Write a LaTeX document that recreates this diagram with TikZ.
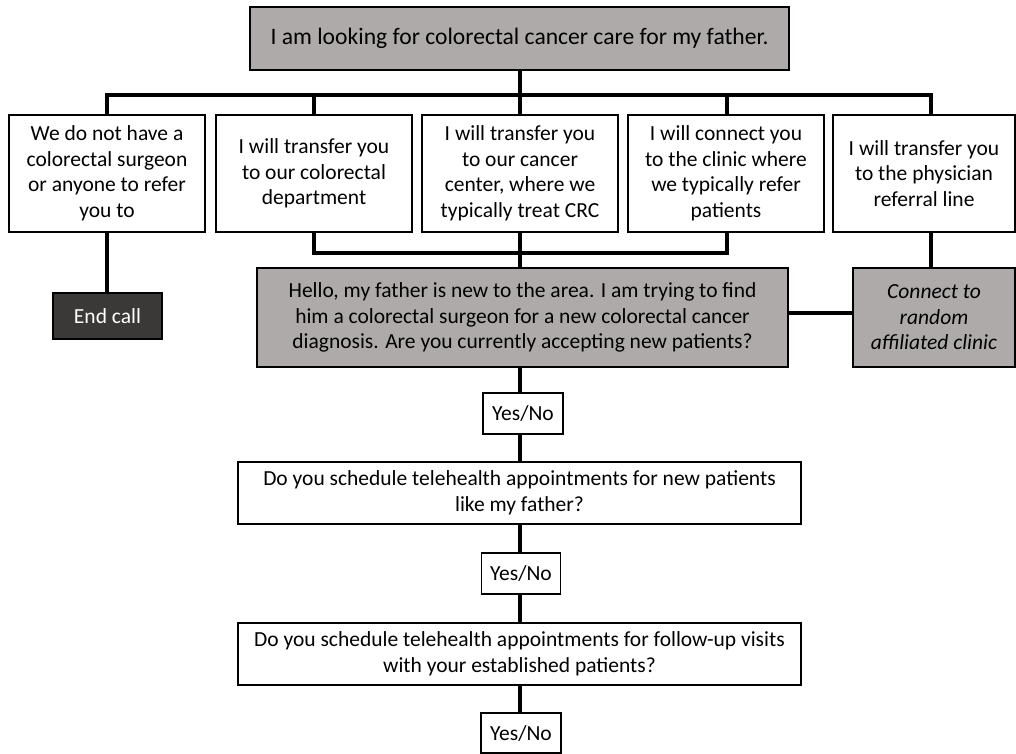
\documentclass[tikz,border=0pt]{standalone}
\usepackage{fontspec}
\setmainfont{Carlito}
\definecolor{boxgray}{HTML}{AEAAAA}
\definecolor{boxdark}{HTML}{3B3838}
\begin{document}
\begin{tikzpicture}[x=1pt,y=-1pt,
  box/.style={draw=black,line width=1.3pt,inner sep=0pt,align=center,font=\fontsize{21.5}{25.5}\selectfont},
  graybox/.style={box,fill=boxgray},
  conn/.style={line width=4pt,draw=black}]
\useasboundingbox (0,0) rectangle (1016,753);
\fill[white] (0,0) rectangle (1016,753);
% nodes
\node[graybox,minimum width=539pt,minimum height=63pt,font=\fontsize{23.6}{28}\selectfont] (top) at (519.5,38.5) {I am looking for colorectal cancer care for my father.};
\node[box,minimum width=196pt,minimum height=117pt] (b1) at (107,173.5) {We do not have a\\colorectal surgeon\\or anyone to refer\\you to};
\node[box,minimum width=196pt,minimum height=117pt] (b2) at (314,173.5) {I will transfer you\\to our colorectal\\department};
\node[box,minimum width=196pt,minimum height=117pt] (b3) at (520,173.5) {I will transfer you\\to our cancer\\center, where we\\typically treat CRC};
\node[box,minimum width=196pt,minimum height=117pt] (b4) at (726,173.5) {I will connect you\\to the clinic where\\we typically refer\\patients};
\node[box,minimum width=182pt,minimum height=117pt] (b5) at (924,173.5) {I will transfer you\\to the physician\\referral line};
\node[graybox,minimum width=531pt,minimum height=99pt] (hello) at (522.5,317.5) {Hello, my father is new to the area. I am trying to find\\him a colorectal surgeon for a new colorectal cancer\\diagnosis. Are you currently accepting new patients?};
\node[graybox,minimum width=162pt,minimum height=99pt] (connect) at (934,317.5) {\itshape Connect to\\\itshape random\\\itshape affiliated clinic};
\node[box,fill=boxdark,text=white,minimum width=109pt,minimum height=46pt] (endcall) at (107.5,316) {End call};
\node[box,minimum width=80pt,minimum height=41pt] (yn1) at (523,413.5) {Yes/No};
\node[box,minimum width=563pt,minimum height=62pt] (q1) at (519.5,493) {Do you schedule telehealth appointments for new patients\\like my father?};
\node[box,minimum width=79pt,minimum height=41pt] (yn2) at (521,573.5) {Yes/No};
\node[box,minimum width=563pt,minimum height=62pt] (q2) at (519.5,654) {Do you schedule telehealth appointments for follow-up visits\\with your established patients?};
\node[box,minimum width=80pt,minimum height=40pt] (yn3) at (521,733) {Yes/No};
% coordinates
\coordinate (bus) at (520,95);
\coordinate (low) at (520,253);
% connectors
\draw[conn] (top.south -| bus) -- (bus);
\draw[conn] (b1.north) -- (b1.north |- bus) -- (931,95) -- (b5.north -| 931,0);
\draw[conn] (b2.north) -- (b2.north |- bus);
\draw[conn] (b3.north) -- (b3.north |- bus);
\draw[conn] (b4.north -| 727,0) -- (727,95);
\draw[conn] (b2.south) -- (b2.south |- low) -- (727,253) -- (b4.south -| 727,0);
\draw[conn] (b3.south) -- (hello.north -| b3.south);
\draw[conn] (b1.south) -- (endcall.north -| b1.south);
\draw[conn] (b5.south -| 931,0) -- (connect.north -| 931,0);
\draw[conn] (hello.east |- 0,313) -- (connect.west |- 0,313);
\draw[conn] (hello.south -| bus) -- (yn1.north -| bus);
\draw[conn] (yn1.south -| bus) -- (q1.north -| bus);
\draw[conn] (q1.south -| bus) -- (yn2.north -| bus);
\draw[conn] (yn2.south -| bus) -- (q2.north -| bus);
\draw[conn] (q2.south -| bus) -- (yn3.north -| bus);
\end{tikzpicture}
\end{document}
